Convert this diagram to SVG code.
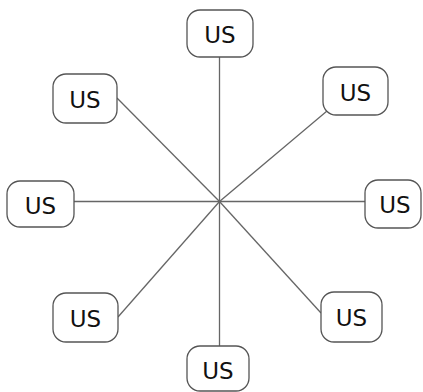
<svg xmlns="http://www.w3.org/2000/svg" width="423" height="392" viewBox="0 0 423 392">
<style>
.box{fill:#fff;stroke:#555;stroke-width:1.3}
.lbl{font-family:"DejaVu Sans",sans-serif;font-size:23px;fill:#111;text-anchor:middle;dominant-baseline:central}
.ln{stroke:#666;stroke-width:1.3;fill:none}
</style>
<rect width="423" height="392" fill="#fff"/>
<g id="connectors">
<line class="ln" x1="219.5" y1="201.5" x2="219.5" y2="57"/>
<line class="ln" x1="219.5" y1="201.5" x2="117" y2="98"/>
<line class="ln" x1="219.5" y1="201.5" x2="74" y2="201.5"/>
<line class="ln" x1="219.5" y1="201.5" x2="219.5" y2="346"/>
<line class="ln" x1="219.5" y1="201.5" x2="327" y2="111"/>
<line class="ln" x1="219.5" y1="201.5" x2="365" y2="201.5"/>
<line class="ln" x1="219.5" y1="201.5" x2="118" y2="317"/>
<line class="ln" x1="219.5" y1="201.5" x2="321" y2="313"/>
</g>
<g id="n-top"><rect class="box" x="187" y="10" width="66" height="47" rx="13"/><text class="lbl" x="220" y="34.5">US</text></g>
<g id="n-ul"><rect class="box" x="53" y="74" width="64" height="49" rx="13"/><text class="lbl" x="85" y="99.5">US</text></g>
<g id="n-l"><rect class="box" x="7" y="181" width="67" height="46" rx="13"/><text class="lbl" x="40.5" y="205.5">US</text></g>
<g id="n-bottom"><rect class="box" x="187" y="346" width="62" height="45" rx="13"/><text class="lbl" x="218" y="371">US</text></g>
<g id="n-ur"><rect class="box" x="323" y="67" width="65" height="48" rx="13"/><text class="lbl" x="355.5" y="92.5">US</text></g>
<g id="n-r"><rect class="box" x="365" y="180" width="56" height="48" rx="13"/><text class="lbl" x="395" y="204.5">US</text></g>
<g id="n-ll"><rect class="box" x="53" y="293" width="65" height="49" rx="13"/><text class="lbl" x="85.5" y="318.5">US</text></g>
<g id="n-lr"><rect class="box" x="321" y="292" width="61" height="50" rx="13"/><text class="lbl" x="351.5" y="317.5">US</text></g>
</svg>
